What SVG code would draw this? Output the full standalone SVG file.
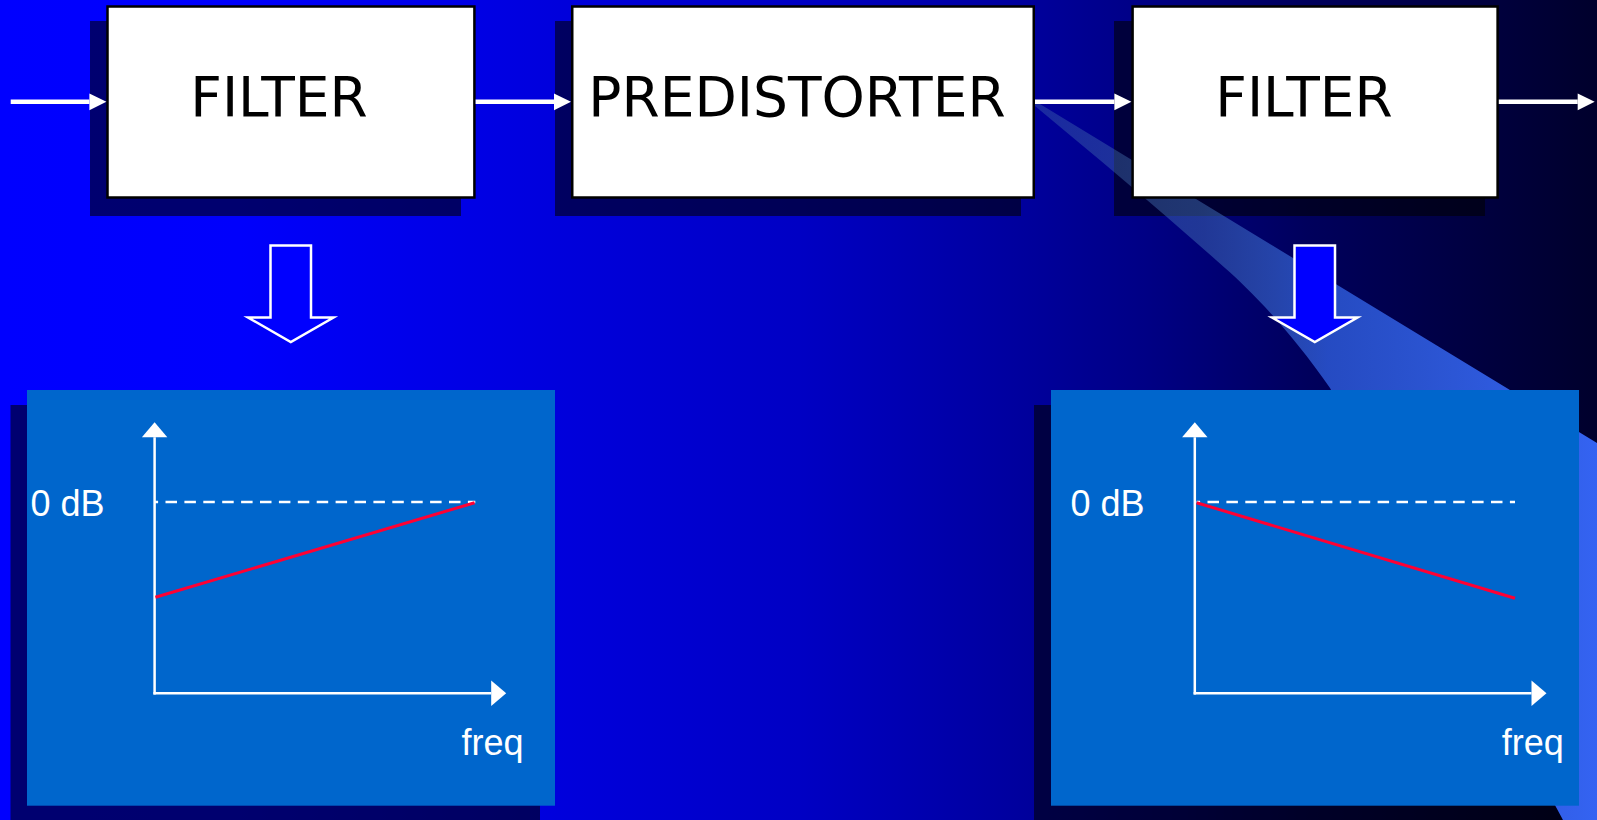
<svg xmlns="http://www.w3.org/2000/svg" width="1597" height="820" viewBox="0 0 1597 820">
<defs>
<linearGradient id="bg" gradientUnits="userSpaceOnUse" x1="0" y1="0" x2="1597" y2="0">
<stop offset="0" stop-color="#0000FF"/>
<stop offset="0.15" stop-color="#0000FC"/>
<stop offset="0.35" stop-color="#0000DC"/>
<stop offset="0.5" stop-color="#0000C4"/>
<stop offset="0.63" stop-color="#0000A0"/>
<stop offset="0.72" stop-color="#000084"/>
<stop offset="0.82" stop-color="#00005C"/>
<stop offset="1" stop-color="#00002C"/>
</linearGradient>
<linearGradient id="beam" gradientUnits="userSpaceOnUse" x1="1035" y1="0" x2="1597" y2="0">
<stop offset="0" stop-color="#5080B0" stop-opacity="0.32"/>
<stop offset="0.3" stop-color="#4575BA" stop-opacity="0.47"/>
<stop offset="0.52" stop-color="#3060E0" stop-opacity="0.78"/>
<stop offset="1" stop-color="#3463F2" stop-opacity="1"/>
</linearGradient>
<marker id="ah" markerUnits="userSpaceOnUse" markerWidth="17" markerHeight="17" refX="0" refY="8.4" orient="auto" overflow="visible">
<path d="M0,0 L17,8.4 L0,16.8 Z" fill="#FFFFFF"/>
</marker>
<marker id="axh" markerUnits="userSpaceOnUse" markerWidth="16" markerHeight="26" refX="0" refY="12.7" orient="auto" overflow="visible">
<path d="M0,0 L15,12.7 L0,25.4 Z" fill="#FFFFFF"/>
</marker>
</defs>
<style>
.shadow{fill:#000000;fill-opacity:0.56}
.box{fill:#FFFFFF;stroke:#000000;stroke-width:2.5}
.boxtxt{font-family:"DejaVu Sans",Verdana,sans-serif;font-size:55px;fill:#000000;text-anchor:middle}
.conn{stroke:#FFFFFF;stroke-width:4.5;fill:none;marker-end:url(#ah)}
.down{fill:#0000FF;stroke:#FFFFFF;stroke-width:2.5;stroke-linejoin:miter}
.panel{fill:#0066CC}
.axis{stroke:#FFFFFF;stroke-width:2.5;fill:none;marker-end:url(#axh)}
.dash{stroke:#FFFFFF;stroke-width:2.5;fill:none;stroke-dasharray:11.5 7.4}
.resp{stroke:#FF0033;stroke-width:3;fill:none}
.lbl{font-family:"Liberation Sans",Arial,sans-serif;font-size:36px;fill:#FFFFFF}
</style>
<rect x="0" y="0" width="1597" height="820" fill="url(#bg)"/>
<g id="shadows">
<rect class="shadow" x="90" y="21" width="371" height="195"/>
<rect class="shadow" x="555" y="21" width="466" height="195"/>
<rect class="shadow" x="1114" y="21" width="371" height="195"/>
<rect class="shadow" x="10.5" y="405" width="529.5" height="420"/>
<rect class="shadow" x="1034" y="405" width="528" height="420"/>
</g>
<path id="beam-glow" d="M1035,101 L1597,443 L1597,820 L1563,820 L1330,388 C1290,330 1250,290 1225,268 C1160,210 1100,160 1035,106 Z" fill="url(#beam)"/>
<g id="filter1">
<rect class="box" x="107.5" y="6.5" width="366.9" height="191"/>
<text class="boxtxt" x="279" y="116">FILTER</text>
</g>
<g id="predistorter">
<rect class="box" x="572.25" y="6.5" width="461.5" height="191"/>
<text class="boxtxt" x="797" y="116">PREDISTORTER</text>
</g>
<g id="filter2">
<rect class="box" x="1132.6" y="6.5" width="365" height="191"/>
<text class="boxtxt" x="1304" y="116">FILTER</text>
</g>
<g id="connectors">
<line class="conn" x1="10.7" y1="101.8" x2="89.4" y2="101.8"/>
<line class="conn" x1="475.6" y1="101.8" x2="554" y2="101.8"/>
<line class="conn" x1="1035" y1="101.8" x2="1114.4" y2="101.8"/>
<line class="conn" x1="1498.8" y1="101.8" x2="1577.7" y2="101.8"/>
</g>
<g id="down-arrow1">
<polygon class="down" points="270.5,245.5 311,245.5 311,317.5 333.5,317.5 290.8,342 248,317.5 270.5,317.5"/>
</g>
<g id="down-arrow2">
<polygon class="down" points="1294.5,245.5 1335,245.5 1335,317.5 1357.5,317.5 1314.8,342 1272,317.5 1294.5,317.5"/>
</g>
<g id="graph1">
<rect class="panel" x="27" y="390" width="528" height="415.7"/>
<line class="axis" x1="154.6" y1="694.5" x2="154.6" y2="437.3"/>
<line class="axis" x1="153.4" y1="693.3" x2="491.2" y2="693.3"/>
<line class="dash" x1="154.6" y1="502" x2="475.3" y2="502" stroke-dashoffset="8"/>
<line class="resp" x1="155.4" y1="597.3" x2="474.6" y2="502.7"/>
<text class="lbl" x="30.5" y="515.7">0 dB</text>
<text class="lbl" x="461.5" y="755">freq</text>
</g>
<g id="graph2">
<rect class="panel" x="1051" y="390" width="528" height="415.7"/>
<line class="axis" x1="1194.8" y1="694.5" x2="1194.8" y2="437.3"/>
<line class="axis" x1="1193.6" y1="693.3" x2="1531.5" y2="693.3"/>
<line class="dash" x1="1196.6" y1="502" x2="1515" y2="502" stroke-dashoffset="8"/>
<line class="resp" x1="1196.6" y1="502.7" x2="1515" y2="598.3"/>
<text class="lbl" x="1070.5" y="515.7">0 dB</text>
<text class="lbl" x="1501.8" y="755">freq</text>
</g>
</svg>
